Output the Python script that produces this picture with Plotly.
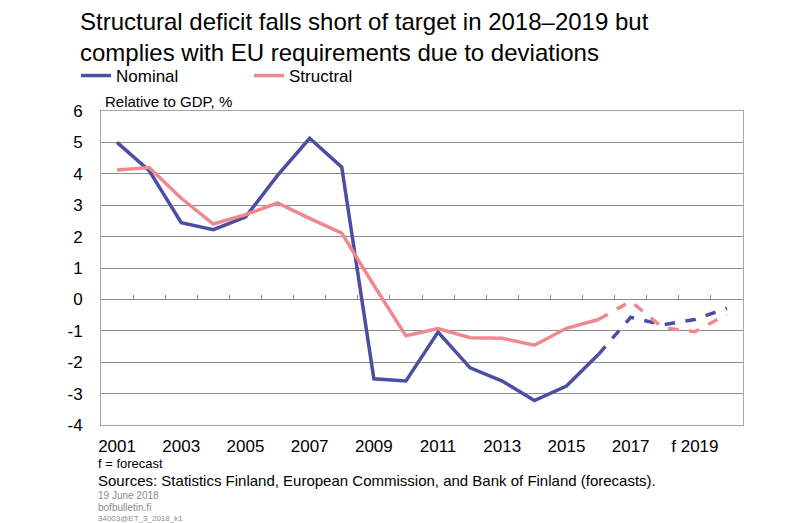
import plotly.graph_objects as go

years = list(range(2001, 2021))
nominal = [5.0, 4.1, 2.44, 2.22, 2.62, 3.95, 5.13, 4.21, -2.53, -2.6,
           -1.04, -2.18, -2.6, -3.22, -2.76, -1.75, -0.57, -0.81, -0.64, -0.28]
structural = [4.12, 4.2, 3.22, 2.4, 2.7, 3.07, 2.58, 2.11, 0.45, -1.16,
              -0.93, -1.22, -1.24, -1.46, -0.92, -0.64, -0.06, -0.9, -1.03, -0.48]
forecast_from = 2016  # dashed part starts here
xtick_vals = [2001, 2003, 2005, 2007, 2009, 2011, 2013, 2015, 2017, 2019]
xtick_text = ['2001', '2003', '2005', '2007', '2009', '2011', '2013', '2015', '2017', 'f 2019']
ytick_vals = list(range(-4, 7))
ytick_text = [str(v) for v in ytick_vals]  # plain hyphen, like the original

blue = '#4b4fa3'
pink = '#f0888f'
grid = '#8c8c8c'
font = 'Liberation Sans, Arial, sans-serif'

# the page body has an 8px margin, so the figure is drawn 8px smaller and
# every pixel position below is given in window pixels minus that offset
OFF = 8
W, H = 800 - OFF, 523 - OFF
L, R, T, B = 101 - OFF, 743 - OFF, 111 - OFF, 425 - OFF

def px(x):
    return (x - OFF - L) / (R - L)

def py(y):
    return (B - (y - OFF)) / (B - T)

k = years.index(forecast_from)

fig = go.Figure()
for name, vals, col in [('Nominal', nominal, blue), ('Structral', structural, pink)]:
    fig.add_trace(go.Scatter(x=years[:k + 1], y=vals[:k + 1], mode='lines', name=name,
                             line=dict(color=col, width=3.5)))
    fig.add_trace(go.Scatter(x=years[k:], y=vals[k:], mode='lines', showlegend=False,
                             line=dict(color=col, width=3.5, dash='dash')))

# invisible trace to hold the tick marks along the zero line
fig.add_trace(go.Scatter(x=[years[0]], y=[0], xaxis='x2', mode='markers',
                         marker=dict(opacity=0), showlegend=False, hoverinfo='skip'))

fig.update_layout(
    width=W, height=H,
    margin=dict(l=L, r=W - R, t=T, b=H - B, autoexpand=False),
    paper_bgcolor='white', plot_bgcolor='white',
    font=dict(family=font, size=16, color='black'),
    title=dict(text='Structural deficit falls short of target in 2018–2019 but<br>'
                    'complies with EU requirements due to deviations',
               xref='container', yref='container', x=(80 - OFF) / W, xanchor='left',
               y=1 - (30 - OFF) / H, yanchor='top', font=dict(size=24, family=font)),
    legend=dict(orientation='h', xref='container', yref='container',
                x=(76 - OFF) / W, y=1 - (58 - OFF) / H, xanchor='left', yanchor='top',
                entrywidth=128, entrywidthmode='pixels', itemwidth=30,
                font=dict(size=17), tracegroupgap=0),
    xaxis=dict(range=[2000.5, 2020.5], tickvals=xtick_vals, ticktext=xtick_text,
               ticks='', showgrid=False, showline=True, linecolor='#a6a6a6',
               linewidth=1, mirror=True, zeroline=False, tickfont=dict(size=17),
               ticklabelstandoff=6, automargin=False),
    xaxis2=dict(range=[2000.5, 2020.5], overlaying='x', anchor='free',
                position=py(300), side='top', showgrid=False, showline=False,
                tickvals=[y + 0.5 for y in years[:-1]], ticks='outside',
                ticklen=5, tickcolor=grid, showticklabels=False, zeroline=False,
                automargin=False),
    yaxis=dict(range=[-4, 6], tickvals=ytick_vals, ticktext=ytick_text,
               showgrid=True, gridcolor=grid, gridwidth=1,
               showline=True, linecolor='#a6a6a6', mirror=True, zeroline=False,
               ticks='', tickfont=dict(size=17), ticklabelstandoff=14,
               automargin=False),
)

notes = [
    ('Relative to GDP, %', 103, 102, 15, 'black'),
    ('f = forecast', 96, 463, 13, 'black'),
    ('Sources: Statistics Finland, European Commission, and Bank of Finland (forecasts).', 96, 480, 15, 'black'),
    ('19 June 2018', 96, 495, 10, '#8c8c8c'),
    ('bofbulletin.fi', 96, 507, 10, '#8c8c8c'),
    ('34003@ET_3_2018_k1', 96, 518, 8, '#8c8c8c'),
]
for text, x, y, size, col in notes:
    fig.add_annotation(text=text, x=px(x), y=py(y), xref='paper', yref='paper',
                       xanchor='left', yanchor='middle', showarrow=False,
                       font=dict(size=size, color=col, family=font))

fig.write_html('out.html')
